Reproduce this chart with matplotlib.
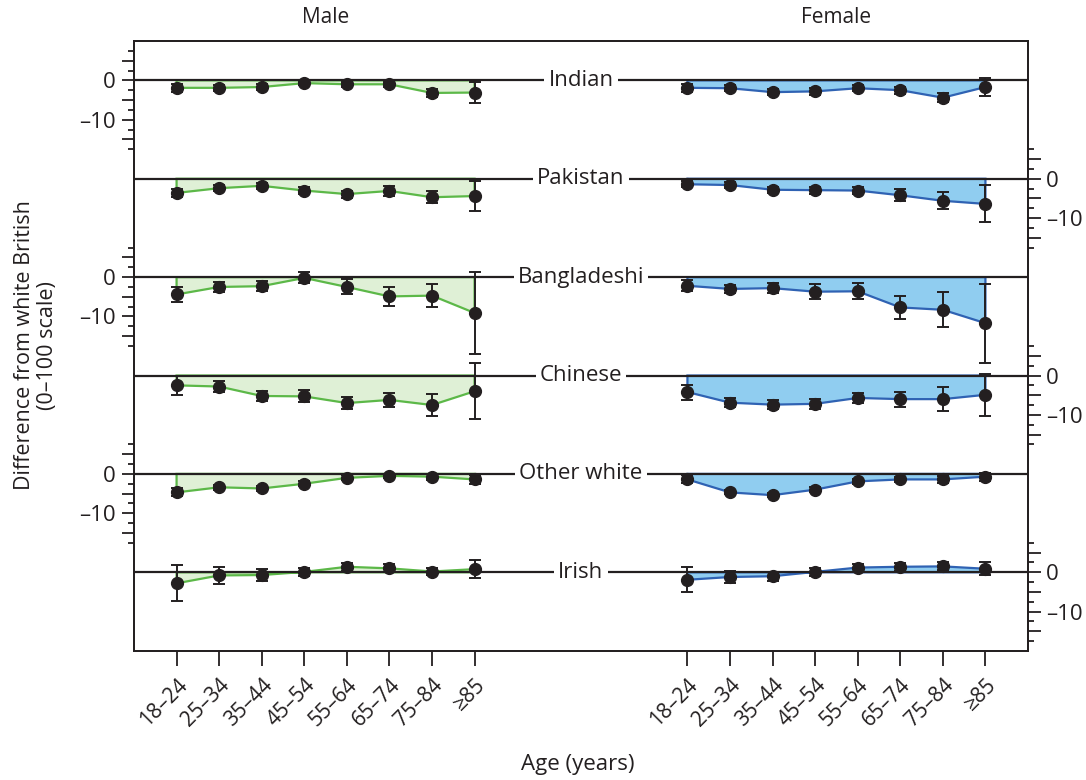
"""Difference from white British by ethnic group, age band and sex."""
import numpy as np
import matplotlib.pyplot as plt
from matplotlib.transforms import blended_transform_factory

plt.rcParams['font.family'] = ['Open Sans', 'DejaVu Sans']
plt.rcParams['text.color'] = '#231f20'
plt.rcParams['axes.labelcolor'] = '#231f20'
plt.rcParams['xtick.color'] = '#231f20'
plt.rcParams['ytick.color'] = '#231f20'

GROUPS = ['Indian', 'Pakistan', 'Bangladeshi', 'Chinese', 'Other white', 'Irish']
AGE_BANDS = ['18–24', '25–34', '35–44', '45–54', '55–64', '65–74', '75–84', '≥85']

# one row per group (same order as GROUPS), one column per age band
male_diff = [
    [-1.9, -1.9, -1.7, -0.7, -1.0, -1.0, -3.2, -3.1],
    [-3.6, -2.4, -1.8, -3.0, -3.9, -3.1, -4.7, -4.4],
    [-4.4, -2.5, -2.3, -0.2, -2.5, -4.9, -4.7, -9.1],
    [-2.5, -2.8, -5.2, -5.3, -7.0, -6.2, -7.5, -4.0],
    [-4.7, -3.4, -3.7, -2.5, -1.0, -0.5, -0.7, -1.4],
    [-2.8, -0.8, -0.7, 0.1, 1.4, 1.0, 0.2, 0.8],
]
male_err = [
    [1.0, 0.8, 0.8, 0.6, 0.7, 0.7, 1.0, 2.6],
    [1.0, 0.8, 0.8, 0.8, 0.9, 1.2, 1.5, 3.7],
    [1.9, 1.3, 1.2, 1.4, 1.9, 2.4, 3.0, 10.5],
    [2.5, 1.5, 1.3, 1.5, 1.5, 1.8, 2.7, 7.1],
    [1.0, 0.6, 0.6, 0.6, 0.6, 0.6, 0.8, 1.2],
    [4.6, 2.1, 1.5, 1.0, 1.0, 1.0, 1.0, 2.2],
]
female_diff = [
    [-1.9, -2.0, -3.0, -2.8, -2.0, -2.5, -4.4, -1.7],
    [-1.4, -1.6, -2.8, -2.9, -3.0, -4.2, -5.6, -6.4],
    [-2.2, -3.0, -2.8, -3.7, -3.6, -7.7, -8.3, -11.7],
    [-4.2, -6.9, -7.4, -7.2, -5.7, -6.0, -6.0, -4.9],
    [-1.4, -4.7, -5.4, -4.0, -1.9, -1.4, -1.4, -0.7],
    [-1.9, -1.2, -1.0, 0.1, 1.2, 1.4, 1.5, 0.9],
]
female_err = [
    [1.0, 0.8, 0.8, 0.8, 0.8, 0.9, 1.2, 2.3],
    [0.8, 0.8, 0.8, 0.9, 1.0, 1.5, 2.2, 4.7],
    [1.4, 1.1, 1.2, 1.9, 2.0, 2.9, 4.4, 10.0],
    [1.9, 1.2, 1.1, 1.2, 1.3, 1.9, 3.0, 5.3],
    [1.0, 0.5, 0.5, 0.6, 0.7, 0.7, 0.8, 1.0],
    [3.2, 1.6, 1.2, 1.0, 1.0, 1.0, 1.0, 1.7],
]

GAP = 25.0          # vertical distance between group baselines
FEMALE_SHIFT = 12   # x offset of the female panel
MALE_LINE, MALE_FILL = '#5cb848', '#dff0d6'
FEMALE_LINE, FEMALE_FILL = '#2f62b3', '#90cdf0'
INK = '#231f20'


def draw_series(ax, x, base, vals, errs, line_col, fill_col):
    y = base + np.asarray(vals)
    px = np.concatenate([[x[0]], x, [x[-1]]])
    py = np.concatenate([[base], y, [base]])
    ax.fill(px, py, facecolor=fill_col, edgecolor=line_col, lw=1.6, zorder=2)
    ax.errorbar(x, y, yerr=errs, fmt='o', color=INK, ms=8.5, elinewidth=1.4,
                capsize=4.5, capthick=1.4, zorder=4)


def block_ticks(indices):
    major, minor, labels = [], [], []
    for i in indices:
        base = -GAP * i
        for v in [5, 0, -5, -10, -15]:
            major.append(base + v)
            labels.append({0: '0', -10: '–10'}.get(v, ''))
        for v in [7.5, 2.5, -2.5, -7.5, -12.5, -17.5]:
            minor.append(base + v)
    return major, minor, labels


def main():
    fig = plt.figure(figsize=(10.86, 7.80), dpi=100)
    ax = fig.add_axes([134 / 1086, 1 - 651 / 780, (1028 - 134) / 1086, (651 - 41) / 780])

    x_male = np.arange(len(AGE_BANDS))
    x_female = x_male + FEMALE_SHIFT
    mid = (x_male[-1] + x_female[0]) / 2

    for i, grp in enumerate(GROUPS):
        base = -GAP * i
        ax.axhline(base, color=INK, lw=1.6, zorder=3)
        ax.text(mid, base, grp, ha='center', va='center', fontsize=16, zorder=5,
                bbox=dict(facecolor='white', edgecolor='none', pad=3.0))
        draw_series(ax, x_male, base, male_diff[i], male_err[i], MALE_LINE, MALE_FILL)
        draw_series(ax, x_female, base, female_diff[i], female_err[i], FEMALE_LINE, FEMALE_FILL)

    ylim = (-GAP * (len(GROUPS) - 1) - 20, 10)
    ax.set_xlim(-1, 20)
    ax.set_ylim(*ylim)

    ax.set_xticks(np.concatenate([x_male, x_female]))
    ax.set_xticklabels(AGE_BANDS + AGE_BANDS, rotation=45, ha='right',
                       rotation_mode='anchor', fontsize=15)
    ax.tick_params(axis='x', length=11, width=1.3, pad=6)

    # left axis carries Indian, Bangladeshi, Other white; right the others
    major, minor, labels = block_ticks([0, 2, 4])
    ax.set_yticks(major)
    ax.set_yticklabels(labels, fontsize=16)
    ax.set_yticks(minor, minor=True)
    ax.tick_params(axis='y', which='major', length=9, width=1.3, pad=4)
    ax.tick_params(axis='y', which='minor', length=4.5, width=1.3)

    ax2 = ax.twinx()
    ax2.set_ylim(*ylim)
    major, minor, labels = block_ticks([1, 3, 5])
    ax2.set_yticks(major)
    ax2.set_yticklabels(labels, fontsize=16)
    ax2.set_yticks(minor, minor=True)
    ax2.tick_params(axis='y', which='major', length=9, width=1.3, pad=4)
    ax2.tick_params(axis='y', which='minor', length=4.5, width=1.3)

    for a in (ax, ax2):
        for s in a.spines.values():
            s.set_linewidth(1.3)
            s.set_color(INK)

    trans = blended_transform_factory(ax.transData, ax.transAxes)
    ax.text(x_male.mean(), 1.038, 'Male', transform=trans, ha='center', va='center', fontsize=15)
    ax.text(x_female.mean(), 1.038, 'Female', transform=trans, ha='center', va='center', fontsize=15)

    fig.text(0.532, 0.02, 'Age (years)', ha='center', va='center', fontsize=16)
    fig.text(0.033, 0.557, 'Difference from white British\n(0–100 scale)', rotation=90,
             ha='center', va='center', fontsize=15.5, linespacing=1.15)

    fig.savefig('out.png', dpi=100)
    plt.close(fig)


if __name__ == '__main__':
    main()
